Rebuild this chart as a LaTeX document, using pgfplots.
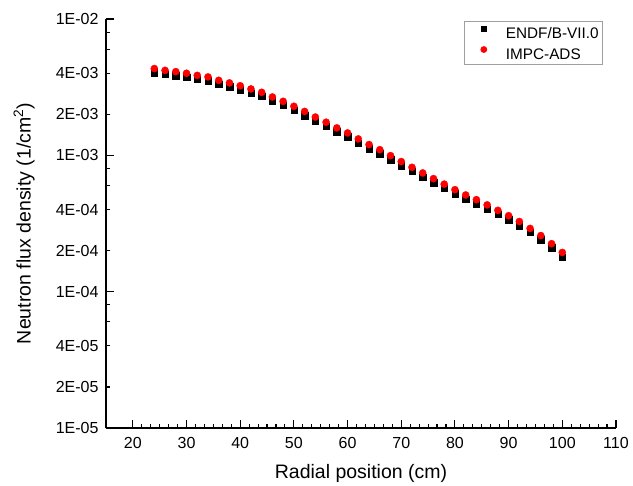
\documentclass[border=0pt]{standalone}
\usepackage{fontspec}
\setmainfont{Liberation Sans}
\usepackage{pgfplots}
\pgfplotsset{compat=1.18}
\pgfplotstableread{
x y
24 4.05e-3
26 3.93e-3
28 3.84e-3
30 3.74e-3
32 3.61e-3
34 3.52e-3
36 3.32e-3
38 3.18e-3
40 3.03e-3
42 2.87e-3
44 2.71e-3
46 2.51e-3
48 2.33e-3
50 2.14e-3
52 1.96e-3
54 1.79e-3
56 1.64e-3
58 1.49e-3
60 1.37e-3
62 1.23e-3
64 1.12e-3
66 1.03e-3
68 9.30e-4
70 8.42e-4
72 7.64e-4
74 6.95e-4
76 6.31e-4
78 5.75e-4
80 5.24e-4
82 4.79e-4
84 4.42e-4
86 4.05e-4
88 3.69e-4
90 3.38e-4
92 3.06e-4
94 2.72e-4
96 2.41e-4
98 2.10e-4
100 1.80e-4
}\endf
\pgfplotstableread{
x y
24 4.33e-3
26 4.20e-3
28 4.11e-3
30 4.00e-3
32 3.86e-3
34 3.76e-3
36 3.55e-3
38 3.40e-3
40 3.24e-3
42 3.07e-3
44 2.90e-3
46 2.68e-3
48 2.49e-3
50 2.29e-3
52 2.10e-3
54 1.91e-3
56 1.75e-3
58 1.59e-3
60 1.46e-3
62 1.32e-3
64 1.20e-3
66 1.10e-3
68 9.95e-4
70 9.00e-4
72 8.17e-4
74 7.43e-4
76 6.75e-4
78 6.15e-4
80 5.60e-4
82 5.12e-4
84 4.73e-4
86 4.33e-4
88 3.95e-4
90 3.61e-4
92 3.27e-4
94 2.91e-4
96 2.58e-4
98 2.25e-4
100 1.94e-4
}\impc
\begin{document}
\begin{tikzpicture}[x=1pt,y=1pt]
\useasboundingbox (-106,-58) rectangle (527,428);
\begin{axis}[
  at={(0,0)}, anchor=south west,
  scale only axis, width=510pt, height=409pt,
  ymode=log, xmin=15, xmax=110, ymin=1e-5, ymax=1e-2,
  axis x line*=bottom, axis y line*=left,
  axis line style={line width=1.2pt, -},
  every tick/.style={line width=1.1pt, black},
  tick align=inside,
  major tick length=8pt, minor tick length=4.5pt,
  xtick={20,30,...,110},
  minor x tick num=5,
  ytick={1e-5,1e-4,1e-3,1e-2},
  yticklabels={1E-05,1E-04,1E-03,1E-02},
  extra y ticks={2e-5,4e-5,2e-4,4e-4,2e-3,4e-3},
  extra y tick labels={2E-05,4E-05,2E-04,4E-04,2E-03,4E-03},
  extra y tick style={major tick length=4.5pt},
  minor ytick={6e-5,8e-5,6e-4,8e-4,6e-3,8e-3},
  /pgf/number format/assume math mode=true,
  tick label style={font=\fontsize{16}{19}\selectfont},
  xticklabel style={yshift=-5.5pt},
  yticklabel style={xshift=-4pt},
  xlabel={Radial position (cm)},
  ylabel={Neutron flux density (1/cm\textsuperscript{2})},
  label style={font=\fontsize{19.5}{23}\selectfont},
  xlabel style={at={(axis description cs:0.5,0)}, anchor=base, yshift=-50pt},
  ylabel style={at={(axis description cs:-0.1476,0.5)}, rotate=0, anchor=base},
  legend style={at={(0.9745,0.995)}, anchor=north east, draw=gray!75, line width=0.8pt,
    font=\fontsize{15.3}{18}\selectfont, inner xsep=4pt, inner ysep=5pt,
    row sep=8pt, column sep=6.7pt,
    nodes={inner sep=0pt, text height=11pt, text depth=0pt}},
  legend cell align=left,
  legend image code/.code={\path (0pt,0pt) (30pt,0pt); \draw[#1, mark options={scale=0.82}] plot coordinates {(15pt,4pt)};},
]
\addplot[only marks, mark=square*, mark size=3.2pt, draw=black, fill=black, mark options={line width=0.3pt}] table[x=x,y=y] {\endf};
\addlegendentry{ENDF/B-VII.0}
\addplot[only marks, mark=*, mark size=3.6pt, draw=red, fill=red, mark options={line width=0.3pt}] table[x=x,y=y] {\impc};
\addlegendentry{IMPC-ADS}
\end{axis}
\end{tikzpicture}
\end{document}
